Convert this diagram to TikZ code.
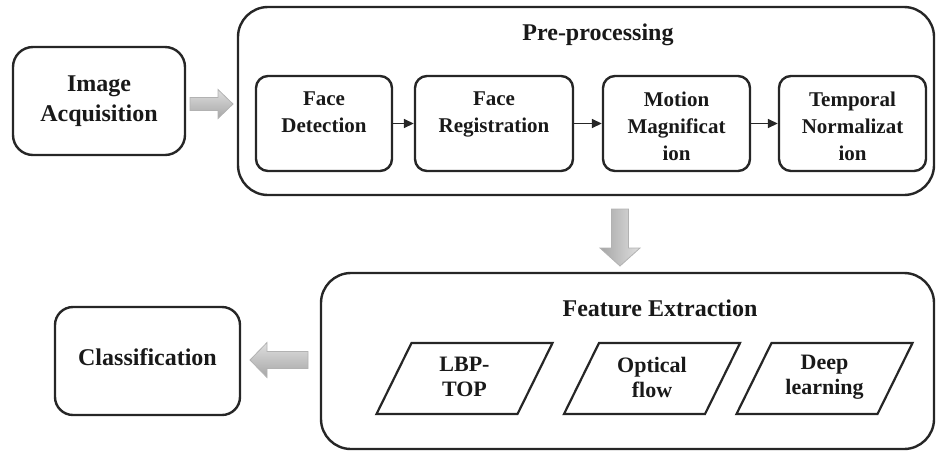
\documentclass[tikz,border=0pt]{standalone}
\usepackage{fontspec}
\setmainfont{Liberation Serif}
\usetikzlibrary{calc,arrows.meta}
\begin{document}
\begin{tikzpicture}[x=1pt,y=-1pt,
  every node/.style={font=\fontsize{21}{27}\selectfont\bfseries, align=center, text=black!90},
  big/.style={font=\fontsize{24}{30}\selectfont\bfseries},
  mid/.style={font=\fontsize{22}{25}\selectfont\bfseries},
  box/.style={draw=black!85, line width=2.4pt, rounded corners=#1, inner sep=0pt},
  box/.default=12pt,
  lbl/.style={inner sep=0pt},
  toplbl/.style={inner sep=0pt, anchor=north},
  para/.style={draw=black!85, line width=2.2pt, line join=miter},
  conn/.style={draw=black!85, line width=1.6pt, -{Triangle[length=10pt,width=9pt]}},
  barrow/.style={draw=gray!60, line width=0.8pt, line join=miter}]
\useasboundingbox (0,0) rectangle (936,451);
% Image acquisition
\node[box=20pt, big, minimum width=172pt, minimum height=108pt] (ia) at (99,101) {Image\\Acquisition};
% Pre-processing
\node[box=30pt, minimum width=696pt, minimum height=188pt] (pre) at (586,101) {};
\node[lbl, big] (pret) at (598,35) {Pre-processing};
\node[box, minimum width=136pt, minimum height=95pt] (fd) at (324,123.5) {};
\node[box, minimum width=158pt, minimum height=95pt] (fr) at (494,123.5) {};
\node[box, minimum width=147pt, minimum height=95pt] (mm) at (676.5,123.5) {};
\node[box, minimum width=147pt, minimum height=95pt] (tn) at (852.5,123.5) {};
\node[toplbl] (fdt) at ($(fd.north)+(0,17)$) {Face\\Detection};
\node[toplbl] (frt) at ($(fr.north)+(0,17)$) {Face\\Registration};
\node[toplbl] (mmt) at ($(mm.north)+(0,17)$) {Motion\\Magnificat\\ion};
\node[toplbl] (tnt) at ($(tn.north)+(0,17)$) {Temporal\\Normalizat\\ion};
\draw[conn] (fd) -- (fr);
\draw[conn] (fr) -- (mm);
\draw[conn] (mm) -- (tn);
% Feature extraction
\node[box=30pt, minimum width=613pt, minimum height=176pt] (fe) at (627.5,361) {};
\node[lbl, big] (fet) at (660,308) {Feature Extraction};
\node[lbl, mid] (lbp) at (464.5,377) {LBP-\\TOP};
\node[lbl, mid] (of) at (652,377) {Optical\\flow};
\node[lbl, mid] (dl) at (824.5,377) {Deep\\learning};
\foreach \n in {lbp,of,dl}{
  \draw[para] ($(\n)+(-88,37)$) -- ++(141,0) -- ++(35,-71) -- ++(-141,0) -- cycle;
}
% Classification
\node[box=18pt, minimum width=185pt, minimum height=108pt] (cl) at (147.5,361) {};
\node[lbl, big] (clt) at (147.5,357) {Classification};
% block arrows
\path[barrow, top color=gray!25, bottom color=gray!70]
  (190,97.5) -- (218,97.5) -- (218,89.5) -- (233,104) -- (218,118.5) -- (218,110.5) -- (190,110.5) -- cycle;
\path[barrow, left color=gray!70, right color=gray!25]
  (611.5,209) -- (628.5,209) -- (628.5,248) -- (640,248) -- (620,266) -- (600,248) -- (611.5,248) -- cycle;
\path[barrow, top color=gray!25, bottom color=gray!70]
  (308,351.5) -- (267,351.5) -- (267,342.5) -- (250,360) -- (267,377.5) -- (267,368.5) -- (308,368.5) -- cycle;
\end{tikzpicture}
\end{document}
